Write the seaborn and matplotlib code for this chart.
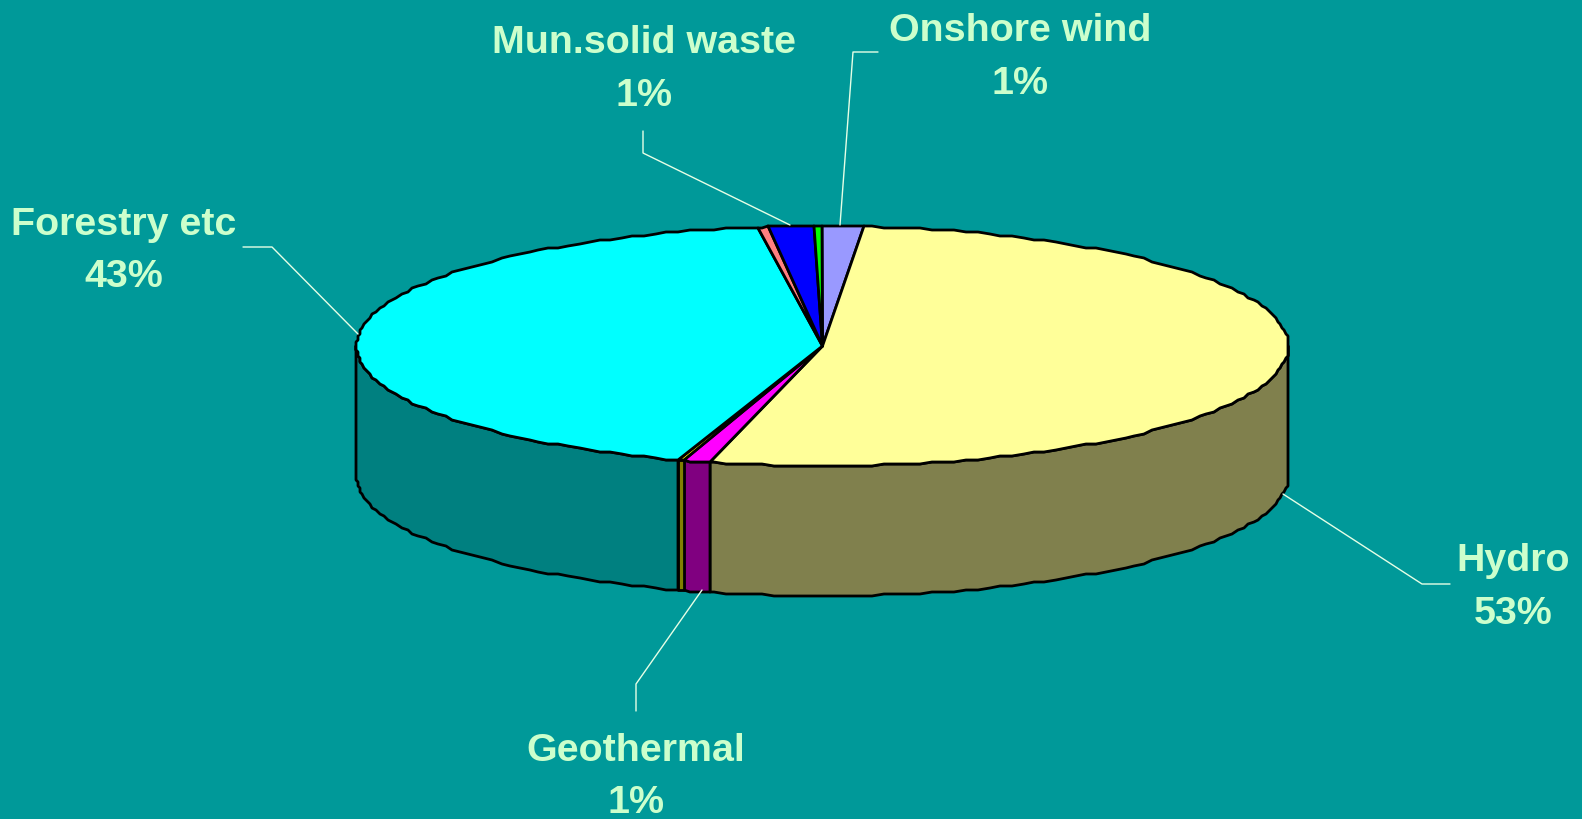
import numpy as np
import pandas as pd
import seaborn as sns
import matplotlib.pyplot as plt

# slices clockwise from 12 o'clock, shares in percent
slice_names = ['Onshore wind', 'Hydro', 'Geothermal', 'Other', 'Forestry etc', 'Other 2', 'Mun.solid waste', 'Other 3']
slice_shares = [1.4, 52.5, 0.9, 0.25, 42.75, 0.3, 1.6, 0.3]
top_colors = ['#9999FF', '#FFFF99', '#FF00FF', '#FFFF00', '#00FFFF', '#FF8080', '#0000FF', '#00FF00']
side_colors = ['#4D4D80', '#80804D', '#800080', '#808000', '#008080', '#804040', '#000080', '#008000']

label_names = ['Onshore wind', 'Mun.solid waste', 'Forestry etc', 'Hydro', 'Geothermal']
label_pcts = ['1%', '1%', '43%', '53%', '1%']
label_x = [1020, 644, 124, 1513, 636]
label_y = [41, 53, 235, 571, 761]
pct_y = [94, 106, 287, 624, 813]

leader_x = [[878, 853, 840], [643, 643, 790], [243, 272, 358], [1283, 1422, 1450], [702, 636, 636]]
leader_y = [[52, 52, 225], [131, 153, 225], [247, 247, 334], [494, 584, 584], [590, 684, 711]]

BG = '#009999'
TXT = '#CCFFCC'
CX, CY, RX, RY, DEPTH = 822.5, 346, 466, 120, 130
EDGE = 2.0


df = pd.DataFrame({'name': slice_names, 'share': slice_shares, 'top': top_colors, 'side': side_colors})
df['end'] = df['share'].cumsum() / df['share'].sum() * 360
df['start'] = df['end'] - df['share'] / df['share'].sum() * 360


def rim(t0, t1, dy=0):
    # points on the ellipse, snapped a bit so the outline is rough like the original
    grid = np.arange(0, 360, 1.5)
    t = np.r_[t0, grid[(grid > t0) & (grid < t1)], t1]
    x = CX + RX * np.sin(np.radians(t))
    y = CY - RY * np.cos(np.radians(t))
    return np.round(x / 2) * 2, np.round(y / 2) * 2 + dy


sns.set_theme(style='white')
plt.rcParams['font.family'] = ['Liberation Sans', 'DejaVu Sans']

fig = plt.figure(figsize=(15.82, 8.19), dpi=100, facecolor=BG)
ax = fig.add_axes([0, 0, 1, 1])
ax.set_xlim(0, 1582)
ax.set_ylim(819, 0)
ax.axis('off')

# front wall, only the part between 90 and 270 degrees shows
for _, row in df.iterrows():
    t0, t1 = max(row['start'], 90), min(row['end'], 270)
    if t1 <= t0:
        continue
    x, y = rim(t0, t1)
    xb, yb = rim(t0, t1, DEPTH)
    ax.fill(np.r_[x, xb[::-1]], np.r_[y, yb[::-1]], facecolor=row['side'],
            edgecolor='black', linewidth=EDGE, joinstyle='round', zorder=2)

# top face
for _, row in df.iterrows():
    x, y = rim(row['start'], row['end'])
    ax.fill(np.r_[CX, x], np.r_[CY, y], facecolor=row['top'],
            edgecolor='black', linewidth=EDGE, joinstyle='round', zorder=3)

for lx, ly in zip(leader_x, leader_y):
    ax.plot(lx, ly, color='#E6FFE6', linewidth=1.0, zorder=4)

for name, pct, x, y, y2 in zip(label_names, label_pcts, label_x, label_y, pct_y):
    ax.text(x, y, name, color=TXT, fontsize=28.4, fontweight='bold', ha='center', va='baseline', zorder=5)
    ax.text(x, y2, pct, color=TXT, fontsize=28.4, fontweight='bold', ha='center', va='baseline', zorder=5)

fig.savefig('out.png', dpi=100, facecolor=BG)
